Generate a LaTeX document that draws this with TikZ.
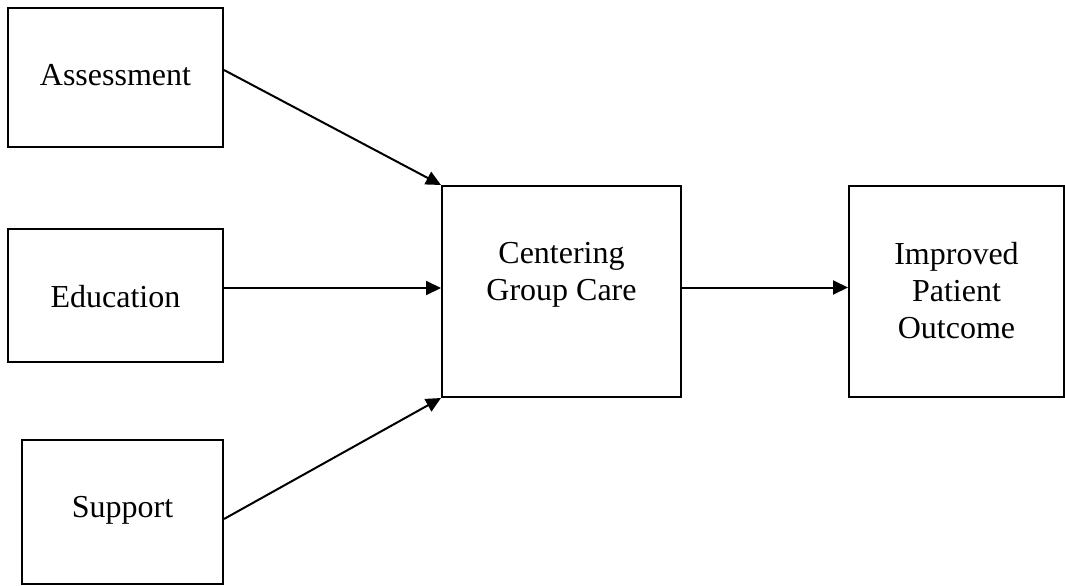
\documentclass[tikz,border=0pt]{standalone}
\usepackage{fontspec}
\setmainfont{Liberation Serif}
\usetikzlibrary{positioning, arrows.meta}
\tikzset{
box/.style={draw, line width=2pt, minimum width=215pt, inner sep=0pt}, % the frame of each box
boxtext/.style={anchor=north, yshift=-57pt, inner sep=0pt, align=center, font=\fontsize{32}{36.8}\selectfont}, % text hangs from the top of the box
link/.style={line width=2pt, -{Triangle[length=15pt, width=14pt]}}, % the arrows between boxes
}

\begin{document}
\begin{tikzpicture}[x=1pt, y=-1pt]
    \useasboundingbox (0,0) rectangle (1065,586);

    \node[box, minimum height=139pt, label={[boxtext]north:Assessment}] (assess) at (115.5,77.5) {};
    \node[box, minimum height=133pt, label={[boxtext]north:Education}] (edu) at (115.5,295.5) {};
    \node[box, minimum width=201pt, minimum height=144pt, label={[boxtext]north:Support}] (supp) at (122.5,512) {};
    \node[box, minimum width=239pt, minimum height=211pt, label={[boxtext]north:{Centering\\Group Care}}] (cgc) at (561.5,291.5) {};
    \node[box, minimum height=211pt, label={[boxtext]north:{Improved\\Patient\\Outcome}}] (outc) at (956.5,291.5) {};

  \draw[link] ([yshift=7.5pt]assess.east) -- (cgc.north west);
  \draw[link] ([yshift=7.5pt]edu.east) -- ([yshift=3.5pt]cgc.west);
  \draw[link] ([yshift=-7pt]supp.east) -- (cgc.south west);
  \draw[link] ([yshift=4pt]cgc.east) -- ([yshift=4pt]outc.west);
\end{tikzpicture}
\end{document}
